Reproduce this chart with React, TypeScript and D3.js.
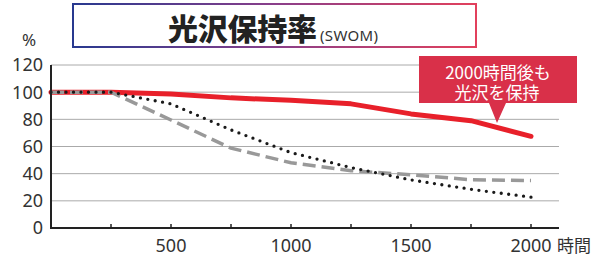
import React from "react";
import * as d3 from "d3";

const hours = [0, 250, 500, 750, 1000, 1250, 1500, 1750, 2000];
const seriesRed = [100, 100, 98.7, 95.8, 94, 91.4, 84, 79, 67.5];
const seriesGray = [100, 100, 79.5, 58.8, 48, 42.2, 39.2, 35.5, 35];
const seriesDot = [100, 100, 91.4, 72.2, 55.5, 44.5, 35.4, 28.5, 22.7];
const yTicks = [0, 20, 40, 60, 80, 100, 120];
const xTickLabels = [500, 1000, 1500, 2000];
const xMinorTicks = [250, 500, 750, 1000, 1250, 1500, 1750, 2000];

const NUM_FONT = "'Noto Sans', 'Liberation Sans', sans-serif";
const JP_FONT = "'Noto Sans CJK JP', sans-serif";

export default function App() {
  const W = 594, H = 256;
  const x = d3.scaleLinear().domain([0, 2000]).range([51, 531]);
  const y = d3.scaleLinear().domain([0, 120]).range([228, 65]);
  const line = (vals: number[]) =>
    d3.line<number>().x((_, i) => x(hours[i])).y((v) => y(v))(vals) || "";

  return (
    <svg width={W} height={H} style={{ position: "absolute", left: 0, top: 0 }}>
      <defs>
        <linearGradient id="tg" x1="0" x2="1" y1="0" y2="0">
          <stop offset="0" stopColor="#28398f" />
          <stop offset="0.5" stopColor="#8a3f8a" />
          <stop offset="1" stopColor="#e2405c" />
        </linearGradient>
      </defs>
      <rect width={W} height={H} fill="#fff" />
      {/* title */}
      <rect x={73} y={4} width={403} height={43} fill="#fff" stroke="url(#tg)" strokeWidth={2} />
      <text x={168} y={40} fontFamily={JP_FONT} fontWeight={900} fontSize={30} fill="#222" textLength={149}>
        光沢保持率
      </text>
      <text x={320} y={41} fontFamily={NUM_FONT} fontSize={15} fill="#333" textLength={58}>
        (SWOM)
      </text>
      <text x={22} y={46} fontFamily={NUM_FONT} fontSize={17} fill="#333">%</text>
      {/* grid */}
      {yTicks.filter((t) => t > 0).map((t) => (
        <line key={t} x1={51} x2={559} y1={y(t)} y2={y(t)} stroke="#aaa" strokeWidth={1} />
      ))}
      {yTicks.map((t) => (
        <text key={"yl" + t} x={43} y={y(t)} dy="0.36em" textAnchor="end" fontFamily={NUM_FONT} fontSize={18} fill="#333">
          {t}
        </text>
      ))}
      {/* series */}
      <path d={line(seriesRed)} fill="none" stroke="#e8202a" strokeWidth={5} strokeLinejoin="round" strokeLinecap="round" />
      <path d={line(seriesGray)} fill="none" stroke="#999" strokeWidth={3.5} strokeDasharray="13 6" />
      <path d={line(seriesDot)} fill="none" stroke="#1a1a1a" strokeWidth={3.3} strokeDasharray="0 7.5" strokeLinecap="round" />
      {/* axes */}
      <line x1={51} x2={51} y1={65} y2={229} stroke="#222" strokeWidth={2} />
      <line x1={50} x2={559} y1={228} y2={228} stroke="#222" strokeWidth={2} />
      {xMinorTicks.map((t) => (
        <line key={"mt" + t} x1={x(t)} x2={x(t)} y1={228} y2={224} stroke="#222" strokeWidth={1.5} />
      ))}
      {xTickLabels.map((t) => (
        <text key={"xl" + t} x={x(t)} y={252} textAnchor="middle" fontFamily={NUM_FONT} fontSize={18} fill="#333">
          {t}
        </text>
      ))}
      <text x={557} y={252} fontFamily={JP_FONT} fontSize={17} fill="#333">時間</text>
      {/* callout */}
      <path d="M419,56 H577 V103 H506 L497,123 L489,103 H419 Z" fill="#d93049" />
      <text x={498} y={79} textAnchor="middle" fontFamily={JP_FONT} fontSize={17} fill="#fff">
        2000時間後も
      </text>
      <text x={497} y={99} textAnchor="middle" fontFamily={JP_FONT} fontSize={17} fill="#fff">
        光沢を保持
      </text>
    </svg>
  );
}
